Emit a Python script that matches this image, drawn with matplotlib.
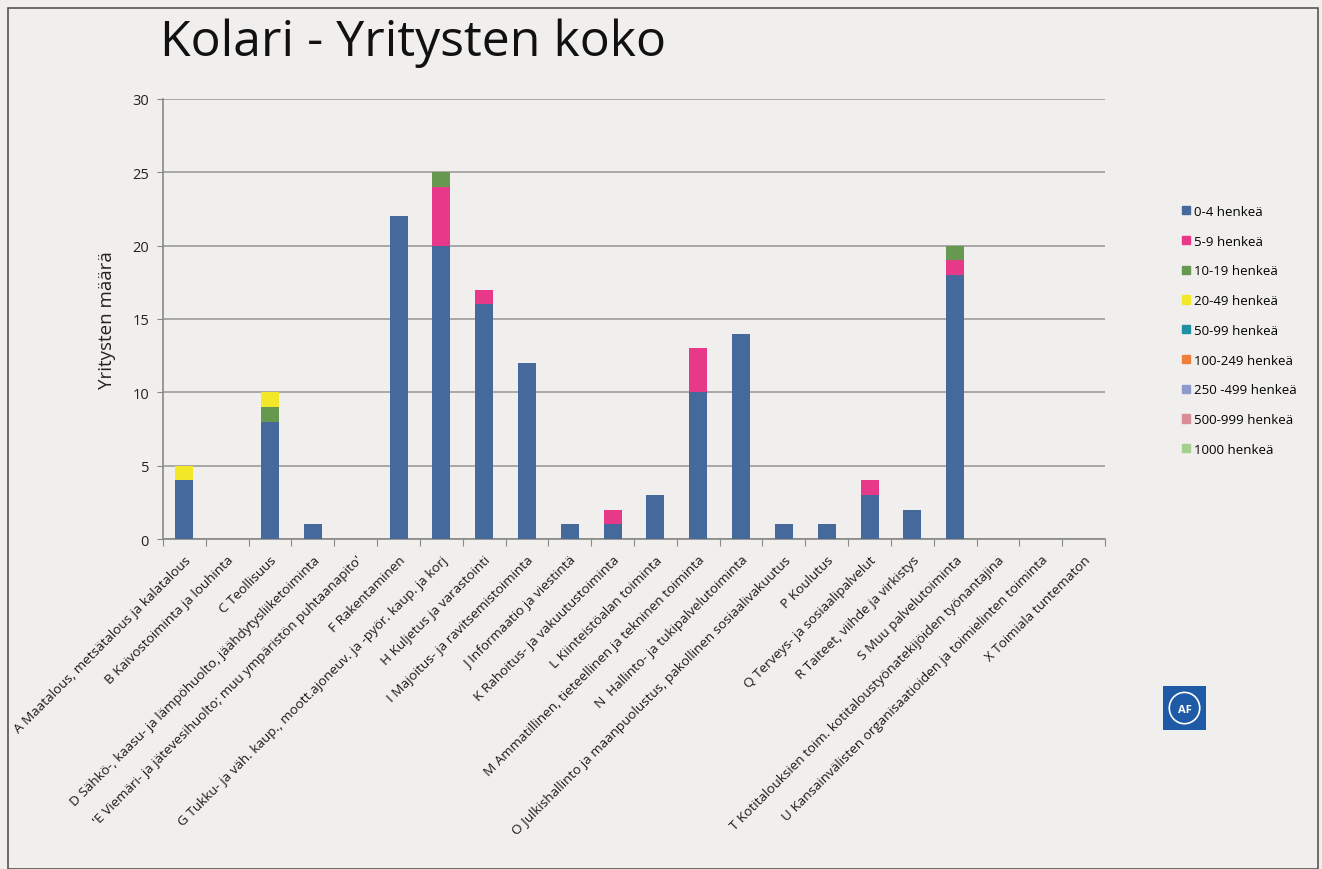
import matplotlib
matplotlib.use("Agg")
import matplotlib.pyplot as plt
import matplotlib.patches as mpatches
import numpy as np

plt.rcParams['font.family'] = ['Open Sans', 'DejaVu Sans']

categories = [
    "A Maatalous, metsätalous ja kalatalous",
    "B Kaivostoiminta ja louhinta",
    "C Teollisuus",
    "D Sähkö-, kaasu- ja lämpöhuolto, jäähdytysliiketoiminta",
    "'E Viemäri- ja jätevesihuolto; muu ympäristön puhtaanapito'",
    "F Rakentaminen",
    "G Tukku- ja väh. kaup., moott.ajoneuv. ja -pyör. kaup. ja korj",
    "H Kuljetus ja varastointi",
    "I Majoitus- ja ravitsemistoiminta",
    "J Informaatio ja viestintä",
    "K Rahoitus- ja vakuutustoiminta",
    "L Kiinteistöalan toiminta",
    "M Ammatillinen, tieteellinen ja tekninen toiminta",
    "N  Hallinto- ja tukipalvelutoiminta",
    "O Julkishallinto ja maanpuolustus, pakollinen sosiaalivakuutus",
    "P Koulutus",
    "Q Terveys- ja sosiaalipalvelut",
    "R Taiteet, viihde ja virkistys",
    "S Muu palvelutoiminta",
    "T Kotitalouksien toim. kotitaloustyönatekijöiden työnantajina",
    "U Kansainvälisten organisaatioiden ja toimielinten toiminta",
    "X Toimiala tuntematon",
]

size_classes = ["0-4 henkeä", "5-9 henkeä", "10-19 henkeä", "20-49 henkeä",
                "50-99 henkeä", "100-249 henkeä", "250 -499 henkeä",
                "500-999 henkeä", "1000 henkeä"]

s0_4   = [4, 0, 8, 1, 0, 22, 20, 16, 12, 1, 1, 3, 10, 14, 1, 1, 3, 2, 18, 0, 0, 0]
s5_9   = [0, 0, 0, 0, 0, 0, 4, 1, 0, 0, 1, 0, 3, 0, 0, 0, 1, 0, 1, 0, 0, 0]
s10_19 = [0, 0, 1, 0, 0, 0, 1, 0, 0, 0, 0, 0, 0, 0, 0, 0, 0, 0, 1, 0, 0, 0]
s20_49 = [1, 0, 1, 0, 0, 0, 0, 0, 0, 0, 0, 0, 0, 0, 0, 0, 0, 0, 0, 0, 0, 0]
s50_99 = [0] * 22
s100_249 = [0] * 22
s250_499 = [0] * 22
s500_999 = [0] * 22
s1000 = [0] * 22

series = [s0_4, s5_9, s10_19, s20_49, s50_99, s100_249, s250_499, s500_999, s1000]
colors = ['#46699B', '#E8388A', '#66994F', '#F2E829', '#1F8FA3',
          '#F07F3C', '#8C9BCB', '#D98E97', '#A3CF8F']

bg = '#F1EFED'
fig = plt.figure(figsize=(13.22, 8.70), dpi=100, facecolor=bg)
ax = fig.add_axes([0.1233, 0.3793, 0.7126, 0.5058])
ax.set_facecolor(bg)

x = np.arange(len(categories))
bottom = np.zeros(len(categories))
handles = []
for vals, col, name in zip(series, colors, size_classes):
    vals = np.array(vals, dtype=float)
    ax.bar(x, vals, bottom=bottom, width=0.42, color=col, zorder=3)
    bottom += vals
    handles.append(mpatches.Patch(color=col, label=name))

ax.set_xlim(-0.5, len(categories) - 0.5)
ax.set_ylim(0, 30)
ax.set_yticks(range(0, 31, 5))
ax.yaxis.grid(True, color='#A8A8A8', linewidth=1.4, zorder=0)
ax.tick_params(axis='y', labelsize=10.5, length=4, color='#888888', pad=6,
               labelcolor='#222222')

# category boundaries as ticks, labels at centers
ax.set_xticks(np.arange(-0.5, len(categories), 1.0))
ax.set_xticklabels([])
ax.tick_params(axis='x', which='major', length=5, color='#888888', direction='out')
ax.set_xticks(x, minor=True)
ax.set_xticklabels(categories, minor=True, rotation=45, ha='right',
                   rotation_mode='anchor', fontsize=9.7, color='#1a1a1a')
ax.tick_params(axis='x', which='minor', length=0, pad=10)

for sp in ['top', 'right']:
    ax.spines[sp].set_visible(False)
for sp in ['left', 'bottom']:
    ax.spines[sp].set_color('#888888')
    ax.spines[sp].set_linewidth(1.2)

ax.set_ylabel("Yritysten määrä", fontsize=13.5, labelpad=12, color='#222222')

fig.text(0.121, 0.950, "Kolari - Yritysten koko", fontsize=36,
         ha='left', va='center', color='#111111')

leg = fig.legend(handles=handles, loc='upper left', bbox_to_anchor=(0.885, 0.777),
                 frameon=False, fontsize=9.5, handlelength=0.6, handleheight=0.6,
                 handletextpad=0.3, labelspacing=1.27)

# logo
logo_ax = fig.add_axes([0.880, 0.160, 0.032, 0.050])
logo_ax.set_facecolor('#1F5AA6')
logo_ax.set_xticks([])
logo_ax.set_yticks([])
logo_ax.add_patch(mpatches.Circle((0.5, 0.5), 0.36, fill=False, ec='white', lw=1.2))
logo_ax.text(0.5, 0.47, "AF", color='white', ha='center', va='center',
             fontsize=8, fontweight='bold')
for sp in logo_ax.spines.values():
    sp.set_visible(False)

# outer frame
fig.add_artist(mpatches.Rectangle((0.006, 0.0), 0.991, 0.99, transform=fig.transFigure,
                                  fill=False, ec='#555555', lw=1.2))

fig.savefig("out.png", dpi=100, facecolor=bg)
